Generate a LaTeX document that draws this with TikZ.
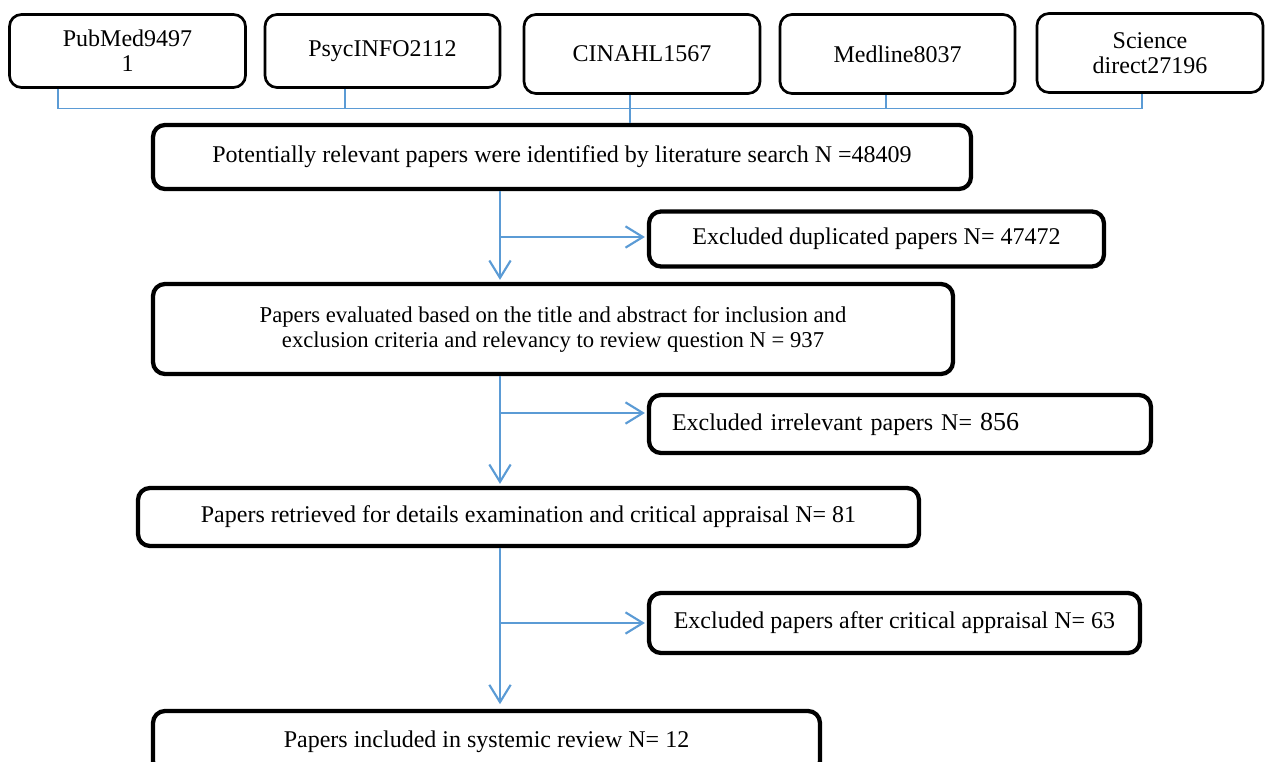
\documentclass[tikz,border=0pt]{standalone}
\usepackage{fontspec}
\setmainfont{Liberation Serif}
\usetikzlibrary{arrows.meta}

\definecolor{flowblue}{RGB}{91,155,213}

\tikzset{
    srcbox/.style={draw, line width=2pt, rounded corners=9pt, align=center,
        inner sep=2pt, font=\fontsize{18}{18.75}\selectfont},
    stagebox/.style={draw, line width=3.2pt, rounded corners=9pt, align=center,
        inner sep=2pt, font=\fontsize{18}{18.75}\selectfont},
    bus/.style={draw=flowblue, line width=1pt},
    flow/.style={draw=flowblue, line width=1.6pt, shorten >=1.5pt,
        -{Straight Barb[length=13pt,width=16pt,line width=1.6pt]}},
}

\begin{document}
\begin{tikzpicture}[x=0.75pt,y=-0.75pt]
    \useasboundingbox (0,0) rectangle (1265,762);

    % Databases
    \node[srcbox, minimum width=177pt, minimum height=54.75pt] (src1) at (127.5,51) {PubMed9497\\1};
    \node[srcbox, minimum width=176.25pt, minimum height=54.75pt] (src2) at (382.5,51) {PsycINFO2112};
    \node[srcbox, minimum width=177pt, minimum height=59.25pt] (src3) at (642,54) {CINAHL1567};
    \node[srcbox, minimum width=176.25pt, minimum height=59.25pt] (src4) at (897.5,54) {Medline8037};
    \node[srcbox, minimum width=169.5pt, minimum height=59.25pt] (src5) at (1150,53) {Science\\direct27196};

    % Stages
    \node[stagebox, minimum width=613.5pt, minimum height=48pt] (main1) at (562,157)
        {Potentially relevant papers were identified by literature search N =48409};
    \node[stagebox, minimum width=341.25pt, minimum height=41.25pt] (excl1) at (876.5,239)
        {Excluded duplicated papers N= 47472};
    \node[stagebox, minimum width=600pt, minimum height=67.5pt,
        font=\fontsize{17}{18.75}\selectfont] (main2) at (553,329)
        {Papers evaluated based on the title and abstract for inclusion and\\
         exclusion criteria and relevancy to review question N = 937};
    \node[stagebox, align=left, text width=342pt, inner xsep=17.25pt, minimum height=43.5pt] (excl2) at (900,424)
        {Excluded irrelevant papers N= {\fontsize{19.5}{20}\selectfont 856}};
    \node[stagebox, minimum width=585.75pt, minimum height=43.5pt] (main3) at (528.5,517)
        {Papers retrieved for details examination and critical appraisal N= 81};
    \node[stagebox, minimum width=368.25pt, minimum height=45pt] (excl3) at (894.5,623)
        {Excluded papers after critical appraisal N= 63};
    \node[stagebox, minimum width=500.25pt, minimum height=46.5pt] (main4) at (486.5,742)
        {Papers included in systemic review N= 12};

    % Database bus
    \coordinate (t1) at (58,108.5);
    \coordinate (t2) at (345,108.5);
    \coordinate (t3) at (630,108.5);
    \coordinate (t4) at (886,108.5);
    \coordinate (t5) at (1142,108.5);
    \draw[bus] (src1.south -| t1) -- (t1) -- (t5) -- (src5.south -| t5);
    \draw[bus] (src2.south -| t2) -- (t2);
    \draw[bus] (src4.south -| t4) -- (t4);
    \draw[bus] (src3.south -| t3) -- (main1.north -| t3);

    % Flow
    \coordinate (spine) at (500,0);
    \coordinate (b1) at (500,237);
    \coordinate (b2) at (500,413);
    \coordinate (b3) at (500,623);
    \draw[flow] (main1.south -| spine) -- (main2.north -| spine);
    \draw[flow] (b1) -- (excl1.west |- b1);
    \draw[flow] (main2.south -| spine) -- (main3.north -| spine);
    \draw[flow] (b2) -- (excl2.west |- b2);
    \draw[flow] (main3.south -| spine) -- ([yshift=2pt]main4.north -| spine);
    \draw[flow] (b3) -- (excl3.west |- b3);
\end{tikzpicture}
\end{document}
